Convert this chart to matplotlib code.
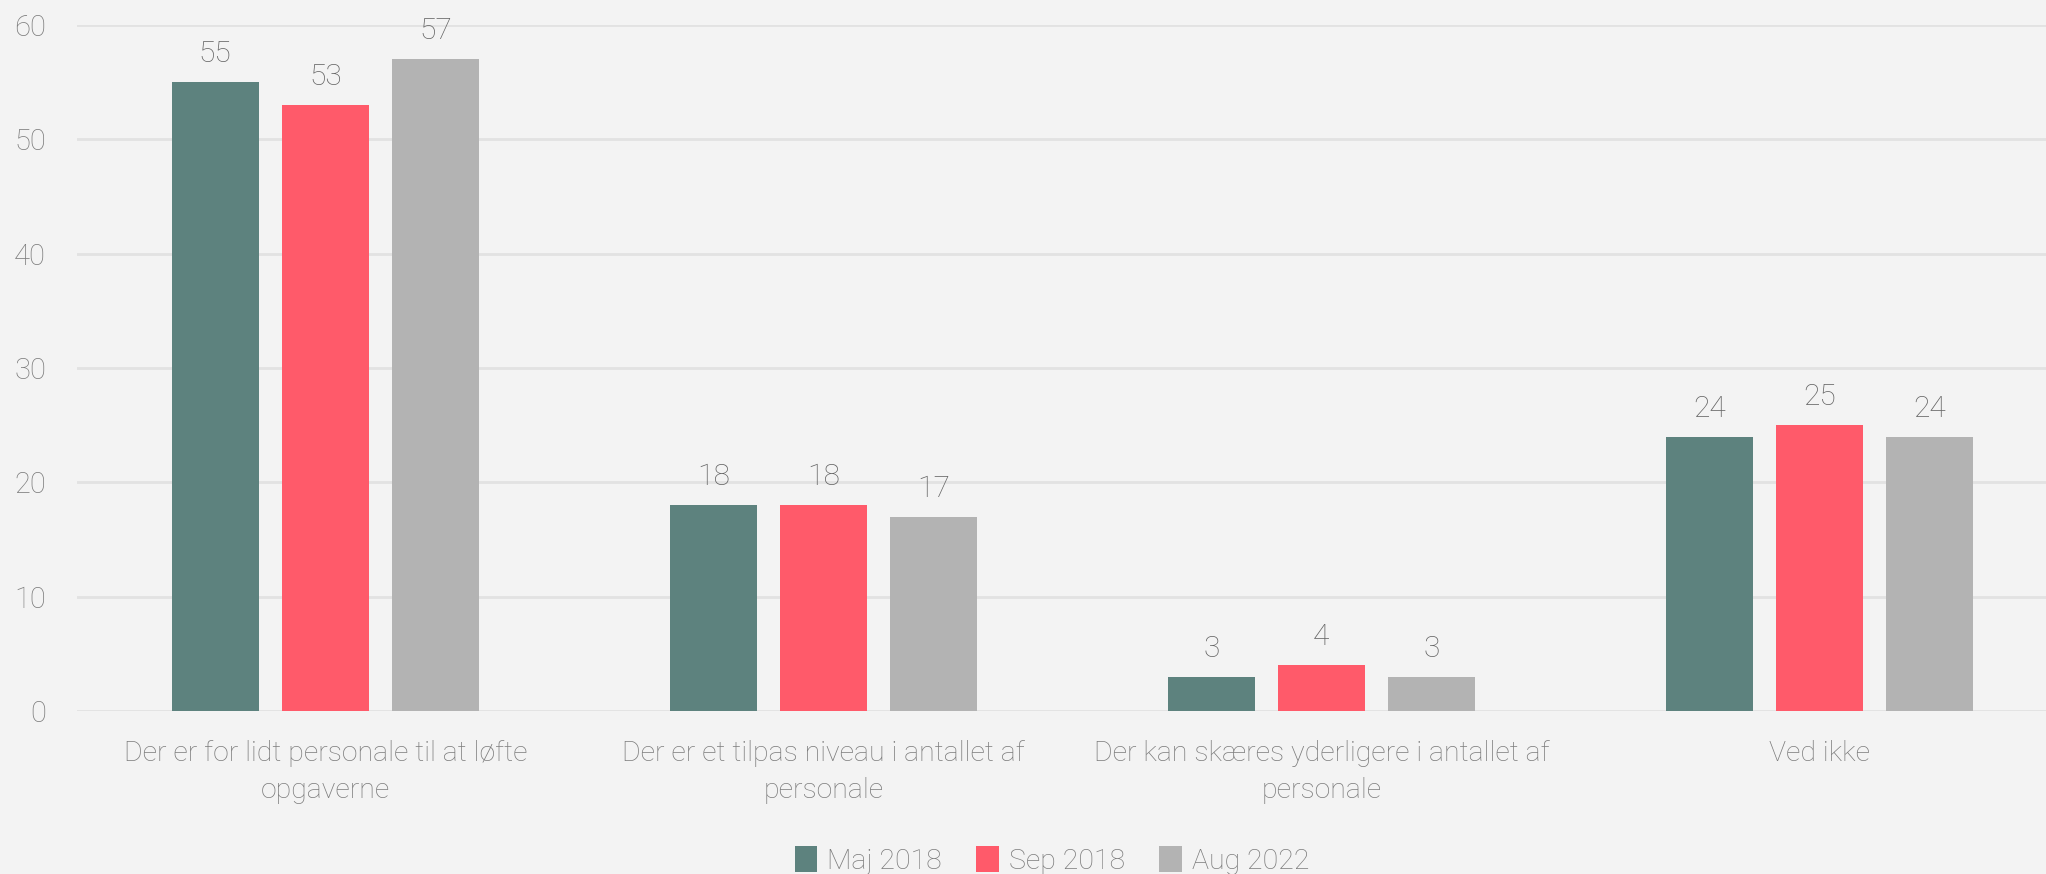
import matplotlib
matplotlib.use("Agg")
import matplotlib.pyplot as plt
from matplotlib.patches import Patch

categories = [
    "Der er for lidt personale til at løfte\nopgaverne",
    "Der er et tilpas niveau i antallet af\npersonale",
    "Der kan skæres yderligere i antallet af\npersonale",
    "Ved ikke",
]
series_names = ["Maj 2018", "Sep 2018", "Aug 2022"]
maj_2018 = [55, 18, 3, 24]
sep_2018 = [53, 18, 4, 25]
aug_2022 = [57, 17, 3, 24]
yticks = [0, 10, 20, 30, 40, 50, 60]

colors = ["#5d827e", "#ff5a6a", "#b3b3b3"]
bg = "#f3f3f3"
grid_c = "#e2e2e2"
text_c = "#7c7c7c"
val_c = "#646464"

plt.rcParams['font.family'] = ['Roboto', 'DejaVu Sans']
FW = 'light'

W, H = 2046, 874
fig = plt.figure(figsize=(W / 100, H / 100), dpi=100, facecolor=bg)
ax = fig.add_axes([76.5 / W, (H - 711) / H, 1992 / W, 686 / H])
ax.set_facecolor(bg)

offsets = [-0.2215, 0.0, 0.2215]
width = 0.174
xs = list(range(len(categories)))
for vals, off, col, name in zip([maj_2018, sep_2018, aug_2022], offsets, colors, series_names):
    bars = ax.bar([x + off for x in xs], vals, width=width, color=col, label=name, zorder=3)
    ax.bar_label(bars, padding=10, fontsize=21.5, color=val_c, fontweight=FW)

ax.set_xlim(-0.5, 3.5)
ax.set_ylim(0, 60)
ax.set_yticks(yticks)
ax.set_yticklabels([str(t) for t in yticks])
ax.yaxis.grid(True, color=grid_c, linewidth=2, zorder=0)
ax.set_axisbelow(True)
for s in ax.spines.values():
    s.set_visible(False)
ax.set_xticks(xs)
ax.set_xticklabels(categories, linespacing=1.45)
ax.tick_params(axis='x', length=0, pad=21, labelsize=20.5, labelcolor=text_c)
ax.tick_params(axis='y', length=0, pad=22, labelsize=21, labelcolor=text_c)
for lab in ax.get_xticklabels() + ax.get_yticklabels():
    lab.set_fontweight(FW)

handles = [Patch(facecolor=c, edgecolor='none', label=n) for c, n in zip(colors, series_names)]
leg = fig.legend(handles=handles, loc='lower center', bbox_to_anchor=(1052 / W, -0.03), ncol=3,
                 frameon=False, fontsize=20.5, handlelength=0.8, handleheight=1.0,
                 handletextpad=0.35, columnspacing=1.2)
for t in leg.get_texts():
    t.set_color(text_c)
    t.set_fontweight(FW)

fig.savefig("out.png", dpi=100, facecolor=bg)
